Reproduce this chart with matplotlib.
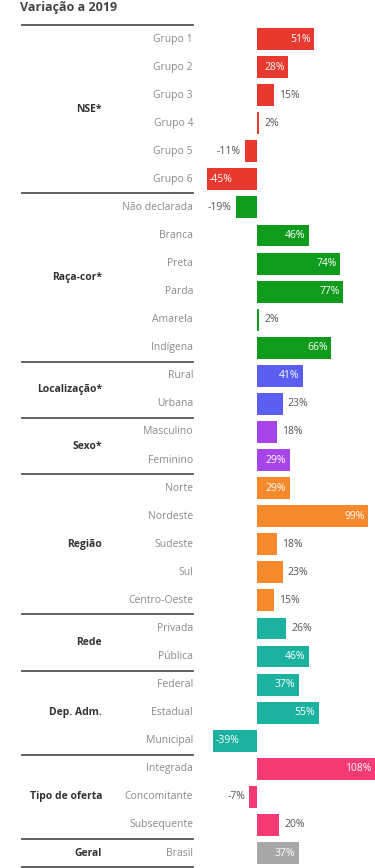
import matplotlib
matplotlib.use("Agg")
import matplotlib.pyplot as plt
import matplotlib.transforms as mtransforms

plt.rcParams['font.family'] = ['Open Sans', 'DejaVu Sans']

# ---------------- data ----------------
title = "Variação a 2019"
groups = ["NSE*", "Raça-cor*", "Localização*", "Sexo*", "Região", "Rede",
          "Dep. Adm.", "Tipo de oferta", "Geral"]
group_sizes = [6, 6, 2, 2, 5, 2, 3, 3, 1]
group_colors = ["#e8392f", "#0f9b1c", "#5a5ff2", "#a545ea", "#f5892c",
                "#1bb3a0", "#1bb3a0", "#f43a72", "#a8a8a8"]
categories = ["Grupo 1", "Grupo 2", "Grupo 3", "Grupo 4", "Grupo 5", "Grupo 6",
              "Não declarada", "Branca", "Preta", "Parda", "Amarela", "Indígena",
              "Rural", "Urbana",
              "Masculino", "Feminino",
              "Norte", "Nordeste", "Sudeste", "Sul", "Centro-Oeste",
              "Privada", "Pública",
              "Federal", "Estadual", "Municipal",
              "Integrada", "Concomitante", "Subsequente",
              "Brasil"]
values = [51, 28, 15, 2, -11, -45,
          -19, 46, 74, 77, 2, 66,
          41, 23,
          18, 29,
          29, 99, 18, 23, 15,
          26, 46,
          37, 55, -39,
          108, -7, 20,
          37]

# ---------------- layout ----------------
W, H = 375, 868
fig = plt.figure(figsize=(W / 100, H / 100), dpi=100)
fig.patch.set_facecolor("white")
ax = fig.add_axes([0, 0, 1, 1])
zero_px, px_per = 256, 1.118
ax.set_xlim(-zero_px / px_per, (W - 1.5 - zero_px) / px_per)
row0, row_h = 39, 28.07
ax.set_ylim((H - row0) / row_h, -row0 / row_h)
ax.axis("off")

colors = []
for c, n in zip(group_colors, group_sizes):
    colors += [c] * n

n = len(categories)
ypos = list(range(n))
ax.barh(ypos, values, height=0.78, color=colors, zorder=2)

xmax = ax.get_xlim()[1]
px = 1 / px_per
for y, v in zip(ypos, values):
    lab = f"{v}%"
    if abs(v) >= 27:
        if v > 0:
            ax.text(min(v, xmax) - 3.5 * px, y, lab, ha="right", va="center",
                    color="white", fontsize=7.5)
        else:
            ax.text(v + 2.5 * px, y, lab, ha="left", va="center",
                    color="white", fontsize=7.5)
    else:
        if v >= 0:
            ax.text(v + 5 * px, y, lab, ha="left", va="center",
                    color="#555555", fontsize=7.5)
        else:
            ax.text(v - 4 * px, y, lab, ha="right", va="center",
                    color="#555555", fontsize=7.5)

blend = mtransforms.blended_transform_factory(fig.transFigure, ax.transData)
for y, cat in zip(ypos, categories):
    ax.text(193 / W, y, cat, transform=blend, ha="right", va="center",
            color="#8a8a8a", fontsize=7.5)

start = 0
bounds = [-0.5]
for g, nsz in zip(groups, group_sizes):
    center = start + (nsz - 1) / 2
    ax.text(102 / W, center, g, transform=blend, ha="right", va="center",
            color="#333333", fontsize=7.5, fontweight="bold")
    start += nsz
    bounds.append(start - 0.5)

for b in bounds:
    ax.plot([22 / W, 193 / W], [b, b], transform=blend, color="#555555",
            lw=1.3, clip_on=False, zorder=3)

fig.text(20 / W, 1 - 1 / H, title, ha="left", va="top",
         fontsize=9, fontweight="bold", color="#444444")

fig.savefig("out.png", dpi=100, facecolor="white")
